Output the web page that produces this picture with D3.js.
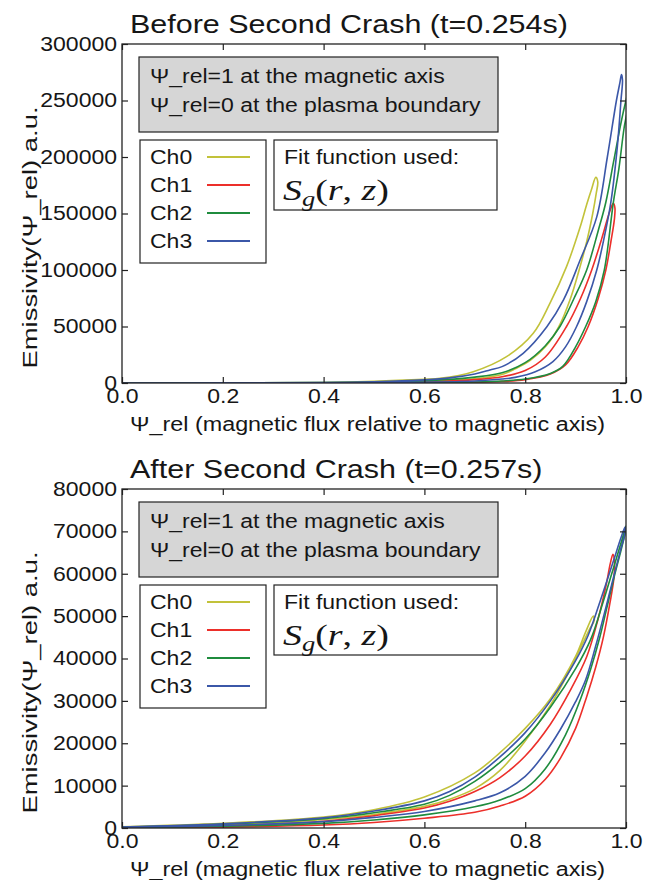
<!DOCTYPE html>
<html><head><meta charset="utf-8">
<script src="https://cdn.jsdelivr.net/npm/d3@7"></script>
<style>
body{margin:0;background:#fff}
svg text{font-family:"Liberation Sans",Arial,Helvetica,sans-serif;fill:#161616}
</style>
</head><body>
<svg id="chart" width="662" height="880"></svg>
<script>
// ---------- data ----------
const xTickValues = [0.0, 0.2, 0.4, 0.6, 0.8, 1.0];
const beforeYTicks = [0, 50000, 100000, 150000, 200000, 250000, 300000];
const afterYTicks = [0, 10000, 20000, 30000, 40000, 50000, 60000, 70000, 80000];
const channels = ["Ch0", "Ch1", "Ch2", "Ch3"];
const channelColors = ["#c2c23a", "#ec2f2a", "#1f8c3e", "#3b57a8"];
const panelTitles = ["Before Second Crash (t=0.254s)", "After Second Crash (t=0.257s)"];
const infoLines = ["Ψ_rel=1 at the magnetic axis", "Ψ_rel=0 at the plasma boundary"];
const fitLabel = "Fit function used:";
const xLabel = "Ψ_rel (magnetic flux relative to magnetic axis)";
const yLabel = "Emissivity(Ψ_rel) a.u.";

// Before second crash: closed loops [psi_rel, emissivity]
const before_ch0 = [[0,0],[0.2,100],[0.4,500],[0.5,1500],[0.6,3300],[0.631,4100],[0.697,10000],[0.763,23300],[0.816,44000],[0.849,70500],[0.882,103000],[0.909,138000],[0.922,158000],[0.932,172000],[0.94,182000],
  [0.944,178000],[0.941,168000],[0.934,150000],[0.922,125000],[0.907,100000],[0.89,75000],[0.867,50000],[0.84,32000],[0.81,20000],[0.78,12500],[0.754,7500],[0.7,3800],[0.6,1400],[0.5,500],[0.3,100],[0,0]];
const before_ch1 = [[0,0],[0.4,100],[0.6,1000],[0.7,3000],[0.754,5500],[0.8,11000],[0.84,23000],[0.882,50000],[0.91,75000],[0.932,100000],[0.952,128000],[0.965,148000],[0.972,157000],[0.975,159000],
  [0.978,155000],[0.977,145000],[0.97,125000],[0.96,100000],[0.945,75000],[0.925,50000],[0.905,32000],[0.88,16000],[0.85,8000],[0.8,3000],[0.754,1300],[0.7,600],[0.6,200],[0.4,40],[0,0]];
const before_ch2 = [[0,0],[0.2,60],[0.4,300],[0.5,800],[0.6,2000],[0.7,5200],[0.754,9100],[0.8,18000],[0.84,33000],[0.869,50000],[0.897,75000],[0.922,100000],[0.945,135000],[0.96,160000],[0.975,195000],[0.99,230000],[1.0,250000],[1.005,258000],
  [1.006,250000],[0.996,225000],[0.986,190000],[0.975,160000],[0.957,100000],[0.94,72000],[0.92,50000],[0.9,32000],[0.875,15000],[0.85,8500],[0.8,3500],[0.754,1800],[0.7,900],[0.6,300],[0.4,60],[0,0]];
const before_ch3 = [[0,0],[0.2,80],[0.4,400],[0.5,1100],[0.6,2800],[0.65,4500],[0.7,8000],[0.73,11500],[0.754,14500],[0.796,26300],[0.843,49800],[0.876,73500],[0.909,108800],[0.942,147000],[0.963,200000],[0.981,250000],[0.988,266000],[0.991,273000],
  [0.993,268000],[0.99,250000],[0.983,210000],[0.97,160000],[0.955,125000],[0.942,100000],[0.922,72000],[0.902,50000],[0.88,32000],[0.855,19000],[0.82,10000],[0.78,5000],[0.754,3500],[0.7,1800],[0.6,700],[0.4,150],[0,0]];

// After second crash
const after_ch0 = [[0,300],[0.2,1100],[0.4,2600],[0.5,4300],[0.6,7300],[0.7,13000],[0.75,17800],[0.8,23500],[0.85,30500],[0.9,40500],[0.92,46300],[0.935,50000],
  [0.937,49000],[0.928,47000],[0.91,42500],[0.885,36500],[0.85,29000],[0.8,20500],[0.75,13600],[0.7,9300],[0.65,6800],[0.6,5100],[0.5,3200],[0.4,2000],[0.2,700],[0,150]];
const after_ch1 = [[0,100],[0.2,500],[0.4,1600],[0.5,2900],[0.6,4700],[0.65,6300],[0.7,8600],[0.75,11900],[0.8,17000],[0.85,24500],[0.89,32600],[0.922,40400],[0.945,49500],[0.96,57000],[0.969,62500],[0.974,64600],
  [0.977,63000],[0.976,59000],[0.968,53000],[0.955,45000],[0.94,38000],[0.922,31000],[0.9,23500],[0.87,16500],[0.84,11500],[0.8,7500],[0.75,5200],[0.7,3700],[0.6,2300],[0.5,1300],[0.4,700],[0.2,200],[0,0]];
const after_ch2 = [[0,200],[0.2,900],[0.4,2200],[0.5,3600],[0.6,5600],[0.65,7700],[0.7,11000],[0.75,15500],[0.8,21000],[0.85,28500],[0.9,37600],[0.93,44500],[0.955,53500],[0.978,62500],[0.992,68000],[1.0,71300],
  [0.998,69500],[0.99,65500],[0.978,60000],[0.963,52500],[0.948,45000],[0.93,37500],[0.91,30500],[0.88,22000],[0.84,14000],[0.8,9300],[0.75,6600],[0.7,5000],[0.6,3100],[0.5,1900],[0.4,1100],[0.2,400],[0,100]];
const after_ch3 = [[0,250],[0.2,1000],[0.4,2400],[0.5,4000],[0.6,6400],[0.65,8600],[0.7,12000],[0.75,16800],[0.8,22500],[0.85,30000],[0.9,39500],[0.925,45500],[0.95,54000],[0.975,63000],[0.99,68500],[0.998,71000],
  [0.997,69000],[0.99,66000],[0.977,60000],[0.96,52000],[0.94,43000],[0.92,35000],[0.9,29800],[0.87,23300],[0.84,17800],[0.8,12200],[0.75,8300],[0.7,6400],[0.6,3900],[0.5,2500],[0.4,1500],[0.2,600],[0,150]];

// ---------- drawing ----------
const svg = d3.select("#chart");
const FS = 20;      // base font size
const SX = 1.15;    // horizontal stretch of the original figure's text

function stretch(sel, f) {
  sel.each(function () {
    const L = this.getComputedTextLength();
    this.setAttribute("textLength", L * f);
    this.setAttribute("lengthAdjust", "spacingAndGlyphs");
  });
}
function fitTo(sel, w) {
  sel.attr("textLength", w).attr("lengthAdjust", "spacingAndGlyphs");
}

function panel(idx, oy, yMax, yTicks, series) {
  const left = 122, right = 626, top = oy, bottom = oy + 339;
  const x = d3.scaleLinear().domain([0, 1]).range([left, right]);
  const y = d3.scaleLinear().domain([0, yMax]).range([bottom, top]);
  const g = svg.append("g");

  const clipId = "clip" + idx;
  g.append("clipPath").attr("id", clipId).append("rect")
    .attr("x", left).attr("y", top).attr("width", right - left).attr("height", bottom - top);

  // curves
  const line = d3.line().x(d => x(d[0])).y(d => y(d[1])).curve(d3.curveCatmullRom.alpha(0.5));
  const lg = g.append("g").attr("clip-path", `url(#${clipId})`);
  series.forEach((s, i) => {
    lg.append("path").attr("d", line(s)).attr("fill", "none")
      .attr("stroke", channelColors[i]).attr("stroke-width", 1.6).attr("stroke-linejoin", "round");
  });

  // axes
  const ax = g.append("g").attr("transform", `translate(0,${bottom})`)
    .call(d3.axisBottom(x).tickValues(xTickValues).tickSize(-6).tickPadding(6).tickFormat(d3.format(".1f")));
  const axT = g.append("g").attr("transform", `translate(0,${top})`)
    .call(d3.axisTop(x).tickValues(xTickValues).tickSize(-6).tickFormat(""));
  const ay = g.append("g").attr("transform", `translate(${left},0)`)
    .call(d3.axisLeft(y).tickValues(yTicks).tickSize(-6).tickPadding(5).tickFormat(d3.format("d")));
  const ayR = g.append("g").attr("transform", `translate(${right},0)`)
    .call(d3.axisRight(y).tickValues(yTicks).tickSize(-6).tickFormat(""));
  [ax, axT, ay, ayR].forEach(a => {
    a.select(".domain").remove();
    a.selectAll(".tick line").attr("stroke", "#222").attr("stroke-width", 1.2);
    a.selectAll("text").attr("font-size", FS).attr("fill", "#161616")
      .style("font-family", '"Liberation Sans",Arial,sans-serif');
  });
  stretch(ax.selectAll("text"), SX);
  stretch(ay.selectAll("text"), SX);

  g.append("rect").attr("x", left).attr("y", top).attr("width", right - left).attr("height", bottom - top)
    .attr("fill", "none").attr("stroke", "#222").attr("stroke-width", 1.3);

  // title
  const t = g.append("text").attr("x", 130).attr("y", oy - 11).attr("font-size", 26.5).text(panelTitles[idx]);
  stretch(t, SX);

  // axis labels
  const xl = g.append("text").attr("x", 130).attr("y", bottom + 48)
    .attr("font-size", FS).text(xLabel);
  fitTo(xl, 475);
  const yl = g.append("text").attr("text-anchor", "middle").attr("font-size", 20)
    .attr("transform", `translate(37,${(top + bottom) / 2 + 24}) rotate(-90)`)
    .text(yLabel);
  fitTo(yl, 262);

  // info box
  g.append("rect").attr("x", 139).attr("y", oy + 13).attr("width", 359).attr("height", 75)
    .attr("fill", "#d6d6d6").attr("stroke", "#222").attr("stroke-width", 1.2);
  infoLines.forEach((s, i) => {
    const tt = g.append("text").attr("x", 150).attr("y", oy + 39 + i * 28.5).attr("font-size", FS).text(s);
    stretch(tt, SX);
  });

  // legend
  g.append("rect").attr("x", 140).attr("y", oy + 96).attr("width", 126).attr("height", 123)
    .attr("fill", "#fff").attr("stroke", "#222").attr("stroke-width", 1.2);
  channels.forEach((c, i) => {
    const cy = oy + 113 + i * 28;
    const tt = g.append("text").attr("x", 150).attr("y", cy + 7).attr("font-size", FS).text(c);
    stretch(tt, SX);
    g.append("line").attr("x1", 207).attr("x2", 250).attr("y1", cy).attr("y2", cy)
      .attr("stroke", channelColors[i]).attr("stroke-width", 2);
  });

  // fit box
  g.append("rect").attr("x", 274).attr("y", oy + 96).attr("width", 223).attr("height", 70)
    .attr("fill", "#fff").attr("stroke", "#222").attr("stroke-width", 1.2);
  const ft = g.append("text").attr("x", 284).attr("y", oy + 120).attr("font-size", FS).text(fitLabel);
  stretch(ft, SX);
  const m = g.append("text").attr("x", 283).attr("y", oy + 156).attr("font-size", 30)
    .style("font-family", '"Liberation Serif","DejaVu Serif",serif');
  m.append("tspan").attr("font-style", "italic").text("S");
  m.append("tspan").attr("font-style", "italic").attr("font-size", 21).attr("dy", 6).text("g");
  m.append("tspan").attr("dy", -6).text("(");
  m.append("tspan").attr("font-style", "italic").text("r");
  m.append("tspan").text(", ");
  m.append("tspan").attr("font-style", "italic").text("z");
  m.append("tspan").text(")");
  fitTo(m, 106);
}

panel(0, 44, 300000, beforeYTicks, [before_ch0, before_ch1, before_ch2, before_ch3]);
panel(1, 489, 80000, afterYTicks, [after_ch0, after_ch1, after_ch2, after_ch3]);
</script>
</body></html>
